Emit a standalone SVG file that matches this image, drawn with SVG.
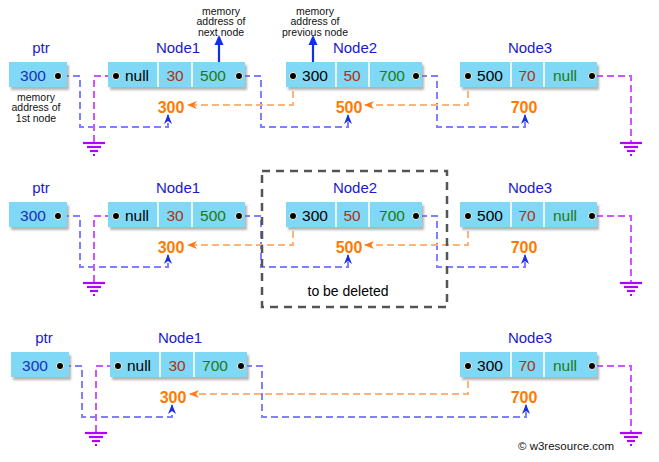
<svg xmlns="http://www.w3.org/2000/svg" width="659" height="462" viewBox="0 0 659 462">
<style>
text{font-family:"Liberation Sans",Arial,sans-serif}
.box{fill:#7fd8f6;filter:url(#sh)}
.sep{stroke:#e8f6fb;stroke-width:2}
.lbl{font-size:15px;fill:#1a1ac8;text-anchor:middle}
.v{font-size:15.5px;text-anchor:middle}
.blk{fill:#000}
.red{fill:#b0300f}
.grn{fill:#1e7a12}
.blu{fill:#1a2fb8}
.org{font-size:16px;font-weight:bold;fill:#ff7a00;text-anchor:middle}
.dot{fill:#000;stroke:#f4f4d8;stroke-width:1}
.note{font-size:10.5px;fill:#111;text-anchor:middle}
.bl{fill:none;stroke:#7f80ff;stroke-width:2;stroke-dasharray:7,4;marker-end:url(#ab)}
.or{fill:none;stroke:#ffb27a;stroke-width:2;stroke-dasharray:7,4;marker-end:url(#ao)}
.pu{fill:none;stroke:#cc55ff;stroke-width:2;stroke-dasharray:7,4}
.gnd{stroke:#b000ff;stroke-width:2.2}
.up{stroke:#1030e8;stroke-width:2.2;marker-end:url(#au)}
</style>
<defs>
<filter id="sh" x="-10%" y="-20%" width="130%" height="160%">
<feDropShadow dx="2" dy="3" stdDeviation="1.3" flood-color="#777" flood-opacity="0.55"/>
</filter>
<marker id="ab" markerUnits="userSpaceOnUse" markerWidth="10" markerHeight="10" refX="9" refY="5" orient="auto" viewBox="0 0 10 10">
<path d="M0,1 L10,5 L0,9 L3,5 z" fill="#1a2fe0" stroke="none"/>
</marker>
<marker id="ao" markerUnits="userSpaceOnUse" markerWidth="10" markerHeight="10" refX="9" refY="5" orient="auto" viewBox="0 0 10 10">
<path d="M0,1 L10,5 L0,9 L3,5 z" fill="#ff7a1a" stroke="none"/>
</marker>
<marker id="au" markerUnits="userSpaceOnUse" markerWidth="10" markerHeight="10" refX="8" refY="5" orient="auto" viewBox="0 0 10 10">
<path d="M0,0.5 L10,5 L0,9.5 z" fill="#1030e8" stroke="none"/>
</marker>
<g id="ground">
<line class="gnd" x1="-11" y1="0" x2="11" y2="0"/>
<line class="gnd" x1="-7" y1="4" x2="7" y2="4"/>
<line class="gnd" x1="-4" y1="8" x2="4" y2="8"/>
<line class="gnd" x1="-1" y1="12" x2="1" y2="12"/>
</g>
</defs>
<rect width="659" height="462" fill="#fff"/>

<!-- Row 1 -->
<g id="connectors1">
<path class="bl" d="M62 76 H80 V127 H168 V115"/>
<path class="bl" d="M243 76 H261 V127 H348 V115"/>
<path class="bl" d="M420 76 H437 V127 H525 V115"/>
<path class="or" d="M293 80 V105 H188"/>
<path class="or" d="M468 80 V105 H365"/>
<path class="pu" d="M112 76 H94 V142"/>
<path class="pu" d="M596 76 H631 V142"/>
<use href="#ground" x="94" y="143"/>
<use href="#ground" x="631" y="143"/>
<line class="up" x1="219" y1="62" x2="219" y2="37"/>
<line class="up" x1="313" y1="62" x2="313" y2="37"/>
</g>
<g id="notes1">
<text class="note" x="221" y="14.5">memory</text>
<text class="note" x="221" y="25">address of</text>
<text class="note" x="221" y="35.5">next node</text>
<text class="note" x="315" y="14.5">memory</text>
<text class="note" x="315" y="25">address of</text>
<text class="note" x="315" y="35.5">previous node</text>
<text class="note" x="36" y="100.5">memory</text>
<text class="note" x="36" y="111">address of</text>
<text class="note" x="36" y="122">1st node</text>
</g>
<g id="ptr1">
<text class="lbl" x="41" y="53">ptr</text>
<rect class="box" x="9" y="62" width="58" height="25"/>
<text class="v blu" x="33" y="81">300</text>
<circle class="dot" cx="58" cy="76" r="3.6"/>
</g>
<g id="node1a">
<text class="lbl" x="178" y="53">Node1</text>
<rect class="box" x="108" y="62" width="137" height="25"/>
<line class="sep" x1="158" y1="62" x2="158" y2="87"/>
<line class="sep" x1="192" y1="62" x2="192" y2="87"/>
<circle class="dot" cx="116" cy="76" r="3.6"/>
<text class="v blk" x="137" y="81">null</text>
<text class="v red" x="175" y="81">30</text>
<text class="v grn" x="213" y="81">500</text>
<circle class="dot" cx="239" cy="76" r="3.6"/>
<text class="org" x="171" y="113">300</text>
</g>
<g id="node2a">
<text class="lbl" x="355" y="53">Node2</text>
<rect class="box" x="286" y="62" width="136" height="25"/>
<line class="sep" x1="336" y1="62" x2="336" y2="87"/>
<line class="sep" x1="369" y1="62" x2="369" y2="87"/>
<circle class="dot" cx="293" cy="76" r="3.6"/>
<text class="v blk" x="315" y="81">300</text>
<text class="v red" x="352" y="81">50</text>
<text class="v grn" x="392" y="81">700</text>
<circle class="dot" cx="416" cy="76" r="3.6"/>
<text class="org" x="349" y="113">500</text>
</g>
<g id="node3a">
<text class="lbl" x="530" y="53">Node3</text>
<rect class="box" x="460" y="62" width="137" height="25"/>
<line class="sep" x1="511" y1="62" x2="511" y2="87"/>
<line class="sep" x1="544" y1="62" x2="544" y2="87"/>
<circle class="dot" cx="468" cy="76" r="3.6"/>
<text class="v blk" x="490" y="81">500</text>
<text class="v red" x="527" y="81">70</text>
<text class="v grn" x="565" y="81">null</text>
<circle class="dot" cx="592" cy="76" r="3.6"/>
<text class="org" x="524" y="113">700</text>
</g>

<!-- Row 2 -->
<g id="connectors2" transform="translate(0,140)">
<path class="bl" d="M62 76 H80 V127 H168 V115"/>
<path class="bl" d="M243 76 H261 V127 H348 V115"/>
<path class="bl" d="M420 76 H437 V127 H525 V115"/>
<path class="or" d="M293 80 V105 H188"/>
<path class="or" d="M468 80 V105 H365"/>
<path class="pu" d="M112 76 H94 V142"/>
<path class="pu" d="M596 76 H631 V142"/>
<use href="#ground" x="94" y="143"/>
<use href="#ground" x="631" y="143"/>
</g>
<g id="ptr2" transform="translate(0,140)">
<text class="lbl" x="41" y="53">ptr</text>
<rect class="box" x="9" y="62" width="58" height="25"/>
<text class="v blu" x="33" y="81">300</text>
<circle class="dot" cx="58" cy="76" r="3.6"/>
</g>
<g id="node1b" transform="translate(0,140)">
<text class="lbl" x="178" y="53">Node1</text>
<rect class="box" x="108" y="62" width="137" height="25"/>
<line class="sep" x1="158" y1="62" x2="158" y2="87"/>
<line class="sep" x1="192" y1="62" x2="192" y2="87"/>
<circle class="dot" cx="116" cy="76" r="3.6"/>
<text class="v blk" x="137" y="81">null</text>
<text class="v red" x="175" y="81">30</text>
<text class="v grn" x="213" y="81">500</text>
<circle class="dot" cx="239" cy="76" r="3.6"/>
<text class="org" x="171" y="113">300</text>
</g>
<g id="node2b" transform="translate(0,140)">
<text class="lbl" x="355" y="53">Node2</text>
<rect class="box" x="286" y="62" width="136" height="25"/>
<line class="sep" x1="336" y1="62" x2="336" y2="87"/>
<line class="sep" x1="369" y1="62" x2="369" y2="87"/>
<circle class="dot" cx="293" cy="76" r="3.6"/>
<text class="v blk" x="315" y="81">300</text>
<text class="v red" x="352" y="81">50</text>
<text class="v grn" x="392" y="81">700</text>
<circle class="dot" cx="416" cy="76" r="3.6"/>
<text class="org" x="349" y="113">500</text>
</g>
<g id="node3b" transform="translate(0,140)">
<text class="lbl" x="530" y="53">Node3</text>
<rect class="box" x="460" y="62" width="137" height="25"/>
<line class="sep" x1="511" y1="62" x2="511" y2="87"/>
<line class="sep" x1="544" y1="62" x2="544" y2="87"/>
<circle class="dot" cx="468" cy="76" r="3.6"/>
<text class="v blk" x="490" y="81">500</text>
<text class="v red" x="527" y="81">70</text>
<text class="v grn" x="565" y="81">null</text>
<circle class="dot" cx="592" cy="76" r="3.6"/>
<text class="org" x="524" y="113">700</text>
</g>
<g id="deleteBox">
<rect x="262" y="171" width="185" height="136" fill="none" stroke="#555" stroke-width="2.5" stroke-dasharray="8,6"/>
<text x="348" y="296" font-size="14" fill="#000" text-anchor="middle">to be deleted</text>
</g>

<!-- Row 3 -->
<g id="connectors3">
<path class="bl" d="M64 366 H82 V417 H172 V405"/>
<path class="bl" d="M245 366 H262 V417 H526 V405"/>
<path class="or" d="M468 370 V394 H190"/>
<path class="pu" d="M114 366 H96 V432"/>
<path class="pu" d="M596 366 H631 V432"/>
<use href="#ground" x="96" y="433"/>
<use href="#ground" x="631" y="433"/>
</g>
<g id="ptr3" transform="translate(2,290)">
<text class="lbl" x="42" y="53">ptr</text>
<rect class="box" x="9" y="62" width="58" height="25"/>
<text class="v blu" x="33" y="81">300</text>
<circle class="dot" cx="58" cy="76" r="3.6"/>
</g>
<g id="node1c" transform="translate(2,290)">
<text class="lbl" x="178" y="53">Node1</text>
<rect class="box" x="108" y="62" width="137" height="25"/>
<line class="sep" x1="158" y1="62" x2="158" y2="87"/>
<line class="sep" x1="192" y1="62" x2="192" y2="87"/>
<circle class="dot" cx="116" cy="76" r="3.6"/>
<text class="v blk" x="137" y="81">null</text>
<text class="v red" x="175" y="81">30</text>
<text class="v grn" x="213" y="81">700</text>
<circle class="dot" cx="239" cy="76" r="3.6"/>
<text class="org" x="171" y="113">300</text>
</g>
<g id="node3c" transform="translate(0,290)">
<text class="lbl" x="530" y="53">Node3</text>
<rect class="box" x="460" y="62" width="137" height="25"/>
<line class="sep" x1="511" y1="62" x2="511" y2="87"/>
<line class="sep" x1="544" y1="62" x2="544" y2="87"/>
<circle class="dot" cx="468" cy="76" r="3.6"/>
<text class="v blk" x="490" y="81">300</text>
<text class="v red" x="527" y="81">70</text>
<text class="v grn" x="565" y="81">null</text>
<circle class="dot" cx="592" cy="76" r="3.6"/>
<text class="org" x="524" y="113">700</text>
</g>
<text x="518" y="450" font-size="11.5" fill="#111">© w3resource.com</text>
</svg>
